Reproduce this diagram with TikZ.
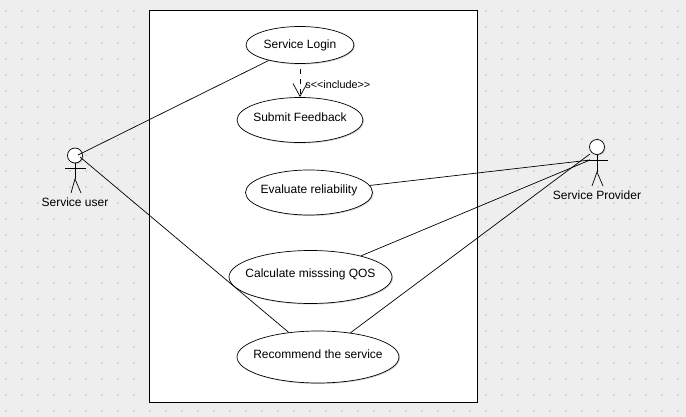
\documentclass[tikz,border=0pt]{standalone}
\usepackage{fontspec}
\setmainfont{Liberation Sans}
\usetikzlibrary{arrows.meta,shapes.geometric,shadows}
\definecolor{panelgray}{HTML}{EEEEEE}
\definecolor{dotgray}{HTML}{D6D6D6}
\newcommand{\caselabel}[2]{\makebox[0pt][c]{\smash{\raisebox{#1pt}{#2}}}}
\tikzset{
  softshadow/.style={drop shadow={shadow xshift=1pt,shadow yshift=-1pt,opacity=0.35}},
  usecase/.style={draw=black,fill=white,ellipse,inner sep=0pt,softshadow,line width=0.7pt,font=\fontsize{12}{14}\selectfont},
  actorlabel/.style={font=\fontsize{12}{14}\selectfont,inner sep=0pt},
  actorhead/.style={draw=black,fill=white,circle,minimum size=15pt,inner sep=0pt,softshadow,line width=0.7pt},
  assoc/.style={black,line width=0.7pt},
  includes/.style={black,line width=0.7pt,dash pattern=on 5pt off 5pt,dash phase=5pt,-{Straight Barb[length=13pt,width=14pt,line width=0.7pt]}},
}
\begin{document}
\begin{tikzpicture}[x=1pt,y=-1pt]
\useasboundingbox (0,0) rectangle (686,417);
\fill[panelgray] (0,0) rectangle (686,417);

%background dots
\foreach \i in {0,...,42}{
  \foreach \j in {0,...,25}{
    \fill[dotgray] ({4.5+16*\i},{10+16*\j}) rectangle ++(2,2);
  }
}

%---------------------------------------------------
%system box
\draw[black,line width=1pt,fill=white] (149.5,10.5) rectangle (477.5,402.5);

%---------------------------------------------------
%use cases
\node[usecase,minimum width=108pt,minimum height=37pt] (login) at (300,45) {\caselabel{-3.3}{Service Login}};
\node[usecase,minimum width=126pt,minimum height=45pt] (feedback) at (300,120) {\caselabel{-1.8}{Submit Feedback}};
\node[usecase,minimum width=127pt,minimum height=45pt] (reliability) at (309,192.5) {\caselabel{-0.8}{Evaluate reliability}};
\node[usecase,minimum width=163pt,minimum height=53pt] (missing) at (310.5,277) {\caselabel{-0.3}{Calculate misssing QOS}};
\node[usecase,minimum width=162pt,minimum height=52pt] (recommend) at (318,357) {\caselabel{-1.3}{Recommend the service}};

%---------------------------------------------------
%service user
\node[actorhead] (userhead) at (75,155.5) {};
\draw[black,line width=0.7pt] (userhead.south) -- (75,179) coordinate (userhip);
\draw[black,line width=0.7pt] (65,168) -- (86,168);
\draw[black,line width=0.7pt] (71,193) -- (userhip) -- (81,193);
\node[actorlabel] (userlabel) at (75,202) {Service user};
\coordinate (userportA) at (78,155);
\coordinate (userportB) at (80,157);

%service provider
\node[actorhead] (providerhead) at (597,147) {};
\draw[black,line width=0.7pt] (providerhead.south) -- (597,172) coordinate (providerhip);
\draw[black,line width=0.7pt] (587,160) -- (608,160);
\draw[black,line width=0.7pt] (592,186) -- (providerhip) -- (603,186);
\node[actorlabel] (providerlabel) at (597,195) {Service Provider};
\coordinate (providerportA) at (590,160);
\coordinate (providerportB) at (590,154);

%---------------------------------------------------
%associations
\draw[assoc] (userportA) -- (login);
\draw[assoc] (userportB) -- (recommend);
\draw[assoc] (providerportA) -- (reliability);
\draw[assoc] (providerportA) -- (missing);
\draw[assoc] (providerportB) -- (recommend);

%include
\draw[includes] (login) -- (feedback) node[pos=0.5,anchor=west,xshift=5pt,yshift=-4pt,font=\fontsize{10.8}{12}\selectfont,inner sep=0pt] (includelabel) {s<{}<include>{}>};

\end{tikzpicture}
\end{document}
